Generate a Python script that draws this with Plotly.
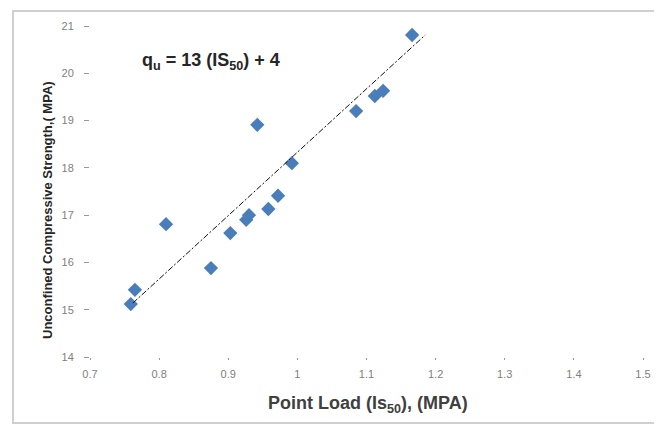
import plotly.graph_objects as go

# Data
point_load = [0.759, 0.765, 0.810, 0.875, 0.903, 0.926, 0.930, 0.942, 0.958,
              0.972, 0.992, 1.085, 1.112, 1.124, 1.166]
ucs = [15.12, 15.42, 16.81, 15.88, 16.62, 16.90, 17.00, 18.91, 17.13,
       17.41, 18.10, 19.20, 19.52, 19.63, 20.81]
trend_x = [0.762, 1.185]
trend_y = [15.14, 20.81]
x_ticks = [0.7, 0.8, 0.9, 1.0, 1.1, 1.2, 1.3, 1.4, 1.5]
x_tick_text = ["0.7", "0.8", "0.9", "1", "1.1", "1.2", "1.3", "1.4", "1.5"]
y_ticks = [14, 15, 16, 17, 18, 19, 20, 21]

# page body has an 8px default margin, so the figure is 8px smaller
W, H = 654, 419
L, R, T, B = 82, 19, 18, 70
PW = W - L - R
PH = H - T - B


def px(xp):
    return (xp - 8 - L) / PW


def py(yp):
    return 1 - (yp - 8 - T) / PH


fig = go.Figure()
fig.add_trace(go.Scatter(
    x=point_load, y=ucs, mode="markers",
    marker=dict(symbol="diamond", size=11, color="#4A7EBB"),
    showlegend=False))
fig.add_trace(go.Scatter(
    x=trend_x, y=trend_y, mode="lines",
    line=dict(color="#111111", width=1, dash="6px,2px,2px,2px"),
    showlegend=False))

fig.update_layout(
    width=W, height=H,
    margin=dict(l=L, r=R, t=T, b=B),
    paper_bgcolor="white", plot_bgcolor="white",
    font=dict(family="Liberation Sans, Arial", color="#595959"),
    xaxis=dict(range=[0.7, 1.5], tickvals=x_ticks, ticktext=x_tick_text,
               showgrid=False, zeroline=False, showline=False,
               ticks="outside", ticklen=2, tickcolor="#999999",
               tickfont=dict(size=11, color="#7f7f7f"),
               ticklabelstandoff=5),
    yaxis=dict(range=[14, 21], tickvals=y_ticks,
               showgrid=False, zeroline=False, showline=False,
               ticks="outside", ticklen=5, tickcolor="#999999",
               tickfont=dict(size=11, color="#7f7f7f"),
               ticklabelstandoff=8),
    shapes=[dict(type="rect", xref="paper", yref="paper",
                 x0=px(13), x1=px(670), y0=py(423), y1=py(11),
                 line=dict(color="#d0d0d0", width=2))],
)
fig.add_annotation(text="<b>q<sub>u</sub> = 13 (IS<sub>50</sub>) + 4</b>",
                   xref="paper", yref="paper", x=px(211), y=py(62),
                   showarrow=False,
                   font=dict(size=18, color="#262626", family="Liberation Sans, Arial"),
                   xanchor="center", yanchor="middle")
fig.add_annotation(text="<b>Unconfined Compressive Strength,( MPA)</b>",
                   xref="paper", yref="paper", x=px(47), y=py(210),
                   textangle=-90, showarrow=False,
                   font=dict(size=13, color="#262626", family="Liberation Sans, Arial"),
                   xanchor="center", yanchor="middle")
fig.add_annotation(text="<b>Point Load (Is<sub>50</sub>), (MPA)</b>",
                   xref="paper", yref="paper", x=px(368), y=py(405),
                   showarrow=False,
                   font=dict(size=18, color="#404040", family="Liberation Sans, Arial"),
                   xanchor="center", yanchor="middle")

fig.write_html("out.html")
